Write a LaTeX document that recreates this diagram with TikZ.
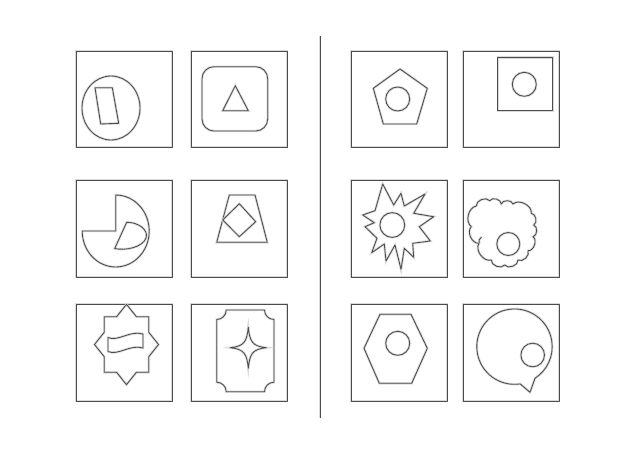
\documentclass[tikz,border=0pt]{standalone}
\begin{document}
\begin{tikzpicture}[x=1pt,y=-1pt,
  ln/.style={draw=black!70, line width=0.85pt, line join=round,
    preaction={draw=black!15, line width=2.4pt}},
  box/.style={ln}]
\fill[white] (0,0) rectangle (640,453);
\useasboundingbox (0,0) rectangle (640,453);
% divider
\draw[ln] (320,36) -- (320,418);
% boxes left
\draw[box] (76,51) rectangle (172,147);
\draw[box] (191,51) rectangle (287,147);
\draw[box] (76,180) rectangle (172,277);
\draw[box] (191,180) rectangle (287,277);
\draw[box] (76,304) rectangle (172,401);
\draw[box] (191,304) rectangle (287,401);
% boxes right
\draw[box] (351,51) rectangle (447,147);
\draw[box] (463,51) rectangle (559,147);
\draw[box] (351,180) rectangle (447,277);
\draw[box] (463,180) rectangle (559,277);
\draw[box] (351,304) rectangle (447,401);
\draw[box] (463,304) rectangle (559,401);
% R1 L1: ellipse + parallelogram
\draw[ln] (111,108) ellipse[x radius=29, y radius=32];
\draw[ln] (95,87.7) -- (112.3,87.7) -- (118.7,123.3) -- (100.7,124) -- cycle;
% R1 L2: rounded rect + triangle
\draw[ln, rounded corners=12pt] (202,66.7) rectangle (267.7,131);
\draw[ln] (235.3,85.7) -- (248.3,110.7) -- (222.7,110.7) -- cycle;
% R2 L1: pie + inner slice
\draw[ln] (115.7,195) arc[start angle=-90, end angle=180, x radius=33.5, y radius=36] -- (115.7,231) -- cycle;
\draw[ln] (126.7,222.3) .. controls (138,222) and (149,230) .. (146,238)
  .. controls (143,247) and (126,251) .. (114.7,248.5) -- cycle;
% R2 L2: trapezoid + diamond
\draw[ln] (229.3,195) -- (255,195) -- (267.3,242.3) -- (216.7,242.3) -- cycle;
\draw[ln] (239.3,203.7) -- (255.7,221.7) -- (239.3,236.7) -- (222.7,220) -- cycle;
% R3 L1: 8-point star + wave
\begin{scope}[shift={(126.5,344.5)}]
\draw[ln] (0,-40.2) -- (9.87,-27.8) -- (22.3,-27.8) -- (22.3,-12.18) -- (32,0)
  -- (22.3,12.18) -- (22.3,27.8) -- (9.87,27.8) -- (0,40.2) -- (-9.87,27.8)
  -- (-22.3,27.8) -- (-22.3,12.18) -- (-32,0) -- (-22.3,-12.18) -- (-22.3,-27.8)
  -- (-9.87,-27.8) -- cycle;
\end{scope}
\draw[ln] (108,337.5) .. controls (118,342) and (130,330) .. (143,334)
  -- (143,348) .. controls (130,344) and (118,356) .. (108,351.5) -- cycle;
% R3 L2: plaque + 4-point star
\draw[ln] (226.2,310) -- (264.5,310) arc[start angle=180, end angle=90, radius=9.5]
  -- (274,382.2) arc[start angle=-90, end angle=-180, radius=9.5]
  -- (226.2,391.7) arc[start angle=0, end angle=-90, radius=9.5]
  -- (216.7,319.5) arc[start angle=90, end angle=0, radius=9.5] -- cycle;
\begin{scope}[shift={(248.3,347.7)}]
\draw[ln] (0,-20.5) .. controls (1.5,-6) and (4,-1.5) .. (18,0)
  .. controls (4,1.5) and (1.5,6) .. (0,20.5)
  .. controls (-1.5,6) and (-4,1.5) .. (-18,0)
  .. controls (-4,-1.5) and (-1.5,-6) .. cycle;
\end{scope}
% R1 R1: pentagon + circle
\draw[ln] (400,69) -- (427.3,88.3) -- (416.7,124) -- (383.3,124) -- (373.3,88.3) -- cycle;
\draw[ln] (397.7,99) circle[radius=12];
% R1 R2: square + circle
\draw[ln] (497.7,57.3) rectangle (552.7,110.7);
\draw[ln] (524.3,84.3) circle[radius=12];
% R2 R1: starburst + circle
\draw[ln] (382.7,184) -- (393.7,205) -- (401,193.3) -- (404.3,206) -- (425,194)
  -- (413.7,213.3) -- (433.7,216.7) -- (419.3,226.7) -- (430.3,241) -- (412.7,243.3)
  -- (413.7,257.3) -- (404.3,248.3) -- (401,269.3) -- (395,245) -- (386,261)
  -- (384.3,244) -- (371.7,252.7) -- (377,238.3) -- (365,226.7) -- (374.3,222.7)
  -- (362.7,215) -- (375,210.7) -- cycle;
\draw[ln] (392.3,225) circle[radius=12.4];
% R2 R2: cloud + circle
\draw[ln] (476.3,206) to[bend left=75] (489.7,200.7) to[bend left=75] (501.3,204)
  to[bend left=75] (513,204) to[bend left=70] (531.3,213.3)
  to[bend left=75] (533.7,225) to[bend left=75] (533,236.7)
  to[bend left=75] (528,250.7) to[bend left=75] (518,260)
  to[bend left=75] (504.7,265) to[bend left=75] (491.3,260)
  to[bend left=70] (479,243.3) to[bend left=70] (471.3,226.7)
  to[bend left=65] cycle;
\draw[ln] (479,243.3) .. controls (478.5,240.5) and (479.5,238.5) .. (481.5,237);
\draw[ln] (508.3,244) circle[radius=11.5];
% R3 R1: hexagon + circle
\draw[ln] (380,314.3) -- (411,314.3) -- (427.3,348.3) -- (411.7,383.3) -- (379.3,383.3) -- (364,348.3) -- cycle;
\draw[ln] (397.7,343.3) circle[radius=12];
% R3 R2: speech bubble + circle
\draw[ln] (520.2,383.9) arc[start angle=81.3, end angle=417, radius=37.7] -- (530,392.3) -- cycle;
\draw[ln] (532.7,355) circle[radius=11.8];
\end{tikzpicture}
\end{document}
